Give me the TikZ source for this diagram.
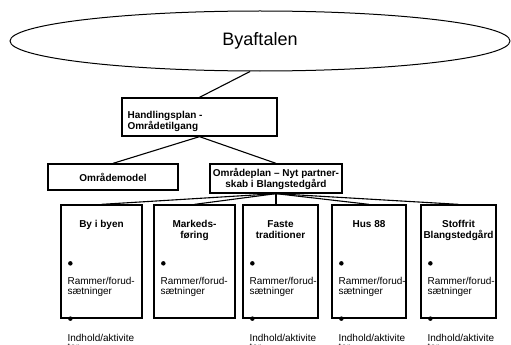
\documentclass[tikz,border=0pt]{standalone}
\usepackage{fontspec}
\setmainfont{Liberation Sans}
\usetikzlibrary{shapes.geometric}

\begin{document}
\begin{tikzpicture}[x=1pt, y=-1pt, node distance={89pt},
    box/.style = {draw, line width=1.3pt, inner sep=0pt},
    head/.style = {font=\bfseries\fontsize{10}{11}\selectfont, align=center, inner sep=0pt},
    small/.style = {font=\fontsize{10}{9.5}\selectfont, align=left, inner sep=0pt, anchor=north west},
    dot/.style = {circle, fill, inner sep=0pt, minimum size=4.5pt},
    link/.style = {line width=1.1pt}]
            \useasboundingbox (0,0) rectangle (511,345);
            \clip (0,0) rectangle (511,345);

            \node[draw, ellipse, line width=1pt, minimum width=500pt, minimum height=60pt, inner sep=0pt,
                font=\fontsize{18}{20}\selectfont] (byaftalen) at (260,41) {Byaftalen};

            \node[box, minimum width=155pt, minimum height=38pt] (handling) at (199.5,117) {};
            \node[head, align=left, anchor=north west] (handlingtxt) at ([xshift=6pt, yshift=-14pt]handling.north west) {Handlingsplan -\\Områdetilgang};

            \node[box, head, minimum width=130pt, minimum height=26pt] (model) at (113,177) {Områdemodel};
            \node[box, head, minimum width=132pt, minimum height=29pt] (plan) at (276,178.5) {Områdeplan – Nyt partner-\\skab i Blangstedgård};

            % five projects
            \node[box, minimum width=81pt, minimum height=113pt] (b1) at (101.5,261.5) {};
            \node[box, minimum width=81pt, minimum height=113pt, node distance=93pt] (b2) [right of=b1] {};
            \node[box, minimum width=75pt, minimum height=113pt, node distance=86pt] (b3) [right of=b2] {};
            \node[box, minimum width=74pt, minimum height=113pt, node distance=88.5pt] (b4) [right of=b3] {};
            \node[box, minimum width=75pt, minimum height=113pt, node distance=89.5pt] (b5) [right of=b4] {};

            \node[head, anchor=north] (t1) at ([yshift=-16pt]b1.north) {By i byen};
            \node[head, anchor=north] (t2) at ([yshift=-16pt]b2.north) {Markeds-\\føring};
            \node[head, anchor=north] (t3) at ([yshift=-16pt]b3.north) {Faste\\traditioner};
            \node[head, anchor=north] (t4) at ([yshift=-16pt]b4.north) {Hus 88};
            \node[head, anchor=north] (t5) at ([yshift=-16pt]b5.north) {Stoffrit\\Blangstedgård};

            \foreach \b in {b1,b2,b3,b4,b5} {
                \node[dot] (\b dot) at ([xshift=10pt, yshift=-59pt]\b.north west) {};
                \node[small] (\b ram) at ([xshift=7pt, yshift=-73pt]\b.north west) {Rammer/forud-\\sætninger};
            }
            \foreach \b in {b1,b3,b4,b5} {
                \node[dot] (\b low) at ([xshift=10pt]\b.south west) {};
                \node[small] (\b ind) at ([xshift=7pt, yshift=-15pt]\b.south west) {Indhold/aktivite\\ter};
            }

            \draw[link] (byaftalen.-108) -- (handling.north);
            \draw[link] (handling.south) -- (model.north);
            \draw[link] (handling.south) -- (plan.north);
            \draw[link] (plan.south) -- (b1.north);
            \draw[link] (plan.south) -- (b2.north);
            \draw[link] (plan.south) -- (plan.south |- b3.north);
            \draw[link] (plan.south) -- (b4.north);
            \draw[link] (plan.south) -- (b5.north);
        \end{tikzpicture}
\end{document}
